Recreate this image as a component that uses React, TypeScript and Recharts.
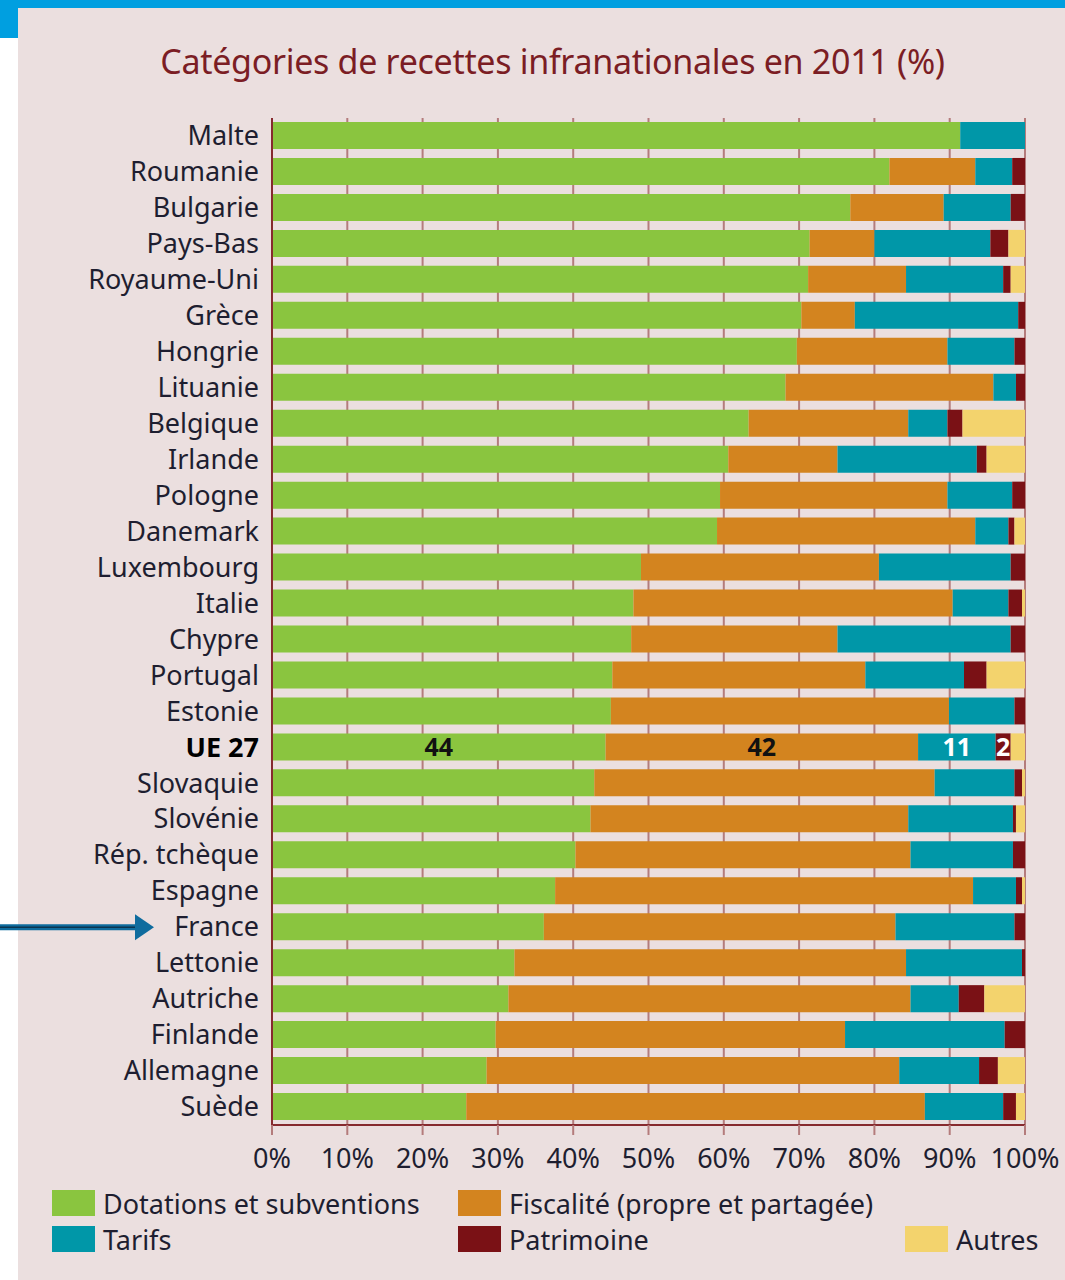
import React from "react"
import { BarChart, Bar, XAxis, YAxis, CartesianGrid, LabelList } from "recharts"

const categories = [
  "Malte", "Roumanie", "Bulgarie", "Pays-Bas", "Royaume-Uni", "Grèce", "Hongrie", "Lituanie",
  "Belgique", "Irlande", "Pologne", "Danemark", "Luxembourg", "Italie", "Chypre", "Portugal",
  "Estonie", "UE 27", "Slovaquie", "Slovénie", "Rép. tchèque", "Espagne", "France", "Lettonie",
  "Autriche", "Finlande", "Allemagne", "Suède",
]

const dotations = [91.4, 82.0, 76.8, 71.4, 71.2, 70.3, 69.7, 68.2, 63.3, 60.6, 59.5, 59.1, 49.0, 48.0, 47.7, 45.2, 45.0, 44.3, 42.8, 42.3, 40.3, 37.6, 36.1, 32.2, 31.4, 29.7, 28.5, 25.8]
const fiscalite = [0, 11.4, 12.4, 8.6, 13.0, 7.1, 20.0, 27.6, 21.2, 14.5, 30.2, 34.3, 31.6, 42.4, 27.4, 33.6, 44.9, 41.5, 45.2, 42.2, 44.5, 55.5, 46.7, 52.0, 53.4, 46.4, 54.8, 60.9]
const tarifs = [8.6, 4.9, 8.9, 15.4, 12.9, 21.7, 8.9, 3.0, 5.2, 18.5, 8.6, 4.4, 17.5, 7.4, 23.0, 13.1, 8.7, 10.3, 10.6, 13.9, 13.6, 5.7, 15.8, 15.4, 6.4, 21.2, 10.6, 10.4]
const patrimoine = [0, 1.7, 1.9, 2.4, 1.0, 0.9, 1.4, 1.2, 2.0, 1.3, 1.7, 0.8, 1.9, 1.8, 1.9, 3.0, 1.4, 2.0, 1.0, 0.4, 1.6, 0.8, 1.4, 0.4, 3.4, 2.7, 2.5, 1.7]
const autres = [0, 0, 0, 2.2, 1.9, 0, 0, 0, 8.3, 5.1, 0, 1.4, 0, 0.4, 0, 5.1, 0, 1.9, 0.4, 1.2, 0, 0.4, 0, 0, 5.4, 0, 3.6, 1.2]

const xTicks = [0, 10, 20, 30, 40, 50, 60, 70, 80, 90, 100]

// the EU average row carries its rounded values as text
const highlightCategory = "UE 27"
const highlightLabels = { dotations: "44", fiscalite: "42", tarifs: "11", patrimoine: "2" }
const arrowCategory = "France"

const series = [
  { key: "dotations", name: "Dotations et subventions", color: "#8AC53F", labelColor: "#111" },
  { key: "fiscalite", name: "Fiscalité (propre et partagée)", color: "#D3841F", labelColor: "#111" },
  { key: "tarifs", name: "Tarifs", color: "#0097A8", labelColor: "#fff" },
  { key: "patrimoine", name: "Patrimoine", color: "#7A1115", labelColor: "#fff" },
  { key: "autres", name: "Autres", color: "#F3D36D", labelColor: "#111" },
]

const data = categories.map((name, i) => ({
  name,
  dotations: dotations[i],
  fiscalite: fiscalite[i],
  tarifs: tarifs[i],
  patrimoine: patrimoine[i],
  autres: autres[i],
}))

const FONT = "'Noto Sans', 'Open Sans', sans-serif"
const BG = "#EBDFDF"

function CountryTick(props: any) {
  const { x, y, payload } = props
  const bold = payload.value === highlightCategory
  return (
    <g>
      {payload.value === arrowCategory && (
        <g>
          <line x1={x - 260} y1={y} x2={x - 120} y2={y} stroke="#0F6C9E" strokeWidth={6} />
          <line x1={x - 260} y1={y} x2={x - 120} y2={y} stroke="#0B3550" strokeWidth={1.5} />
          <polygon points={`${x - 124},${y - 13} ${x - 105},${y} ${x - 124},${y + 13}`} fill="#0F6C9E" />
        </g>
      )}
      <text
        x={x}
        y={y}
        dy="0.34em"
        textAnchor="end"
        fontFamily={FONT}
        fontSize={27}
        fontWeight={bold ? 700 : 400}
        fill={bold ? "#000" : "#1E1E30"}
      >
        {payload.value}
      </text>
    </g>
  )
}

function makeLabel(key: string, color: string) {
  return (props: any) => {
    const { x, y, width, height, value } = props
    if (value !== highlightCategory) return null
    const text = (highlightLabels as any)[key]
    if (!text) return null
    return (
      <text
        x={x + width / 2}
        y={y + height / 2}
        dy="0.36em"
        textAnchor="middle"
        fontFamily={FONT}
        fontSize={25}
        fontWeight={700}
        fill={color}
      >
        {text}
      </text>
    )
  }
}

function LegendBox() {
  const order = [series[0], series[1], null, series[2], series[3], series[4]]
  return (
    <div
      style={{
        position: "absolute",
        left: 52,
        top: 1189,
        display: "grid",
        gridTemplateColumns: "406px 447px 160px",
        rowGap: 8,
        fontFamily: FONT,
        fontSize: 27,
        color: "#1E1E30",
      }}
    >
      {order.map((s, i) =>
        s ? (
          <div key={i} style={{ display: "flex", alignItems: "center", height: 28 }}>
            <span style={{ width: 43, height: 26, background: s.color, marginRight: 8, display: "inline-block" }} />
            <span>{s.name}</span>
          </div>
        ) : (
          <div key={i} />
        )
      )}
    </div>
  )
}

export default function App() {
  return (
    <div style={{ position: "absolute", left: 0, top: 0, width: 1065, height: 1280, background: "#fff", overflow: "hidden" }}>
      <div style={{ position: "absolute", left: 18, top: 8, right: 0, bottom: 0, background: BG }} />
      <div style={{ position: "absolute", left: 0, top: 0, width: 1065, height: 8, background: "#009FE0" }} />
      <div style={{ position: "absolute", left: 0, top: 0, width: 18, height: 38, background: "#009FE0" }} />
      <div
        style={{
          position: "absolute",
          left: 18,
          right: 0,
          top: 38,
          textAlign: "center",
          fontFamily: FONT,
          fontSize: 34,
          color: "#7B1D24",
          lineHeight: "46px",
          paddingLeft: 22,
          letterSpacing: -0.3,
        }}
      >
        Catégories de recettes infranationales en 2011 (%)
      </div>
      <div style={{ position: "absolute", left: 0, top: 0 }}>
        <BarChart
          width={1065}
          height={1280}
          data={data}
          layout="vertical"
          margin={{ top: 118, right: 40, bottom: 115, left: 22 }}
          barSize={27}
        >
          <CartesianGrid horizontal={false} vertical stroke="#B47C7C" strokeWidth={2} />
          <XAxis
            type="number"
            domain={[0, 100]}
            ticks={xTicks}
            interval={0}
            tickFormatter={(v: number) => `${v}%`}
            axisLine={{ stroke: "#862A2E", strokeWidth: 2 }}
            tickLine={{ stroke: "#B47C7C", strokeWidth: 2 }}
            tickSize={10}
            height={40}
            tick={{ fontFamily: FONT, fontSize: 27, fill: "#1E1E30", dy: 12 }}
          />
          <YAxis
            type="category"
            dataKey="name"
            width={250}
            interval={0}
            axisLine={{ stroke: "#862A2E", strokeWidth: 2 }}
            tickLine={false}
            tickMargin={7}
            tick={<CountryTick />}
          />
          {series.map((s) => (
            <Bar key={s.key} dataKey={s.key} name={s.name} stackId="a" fill={s.color} isAnimationActive={false}>
              <LabelList dataKey="name" content={makeLabel(s.key, s.labelColor)} />
            </Bar>
          ))}
        </BarChart>
      </div>
      <LegendBox />
    </div>
  )
}
